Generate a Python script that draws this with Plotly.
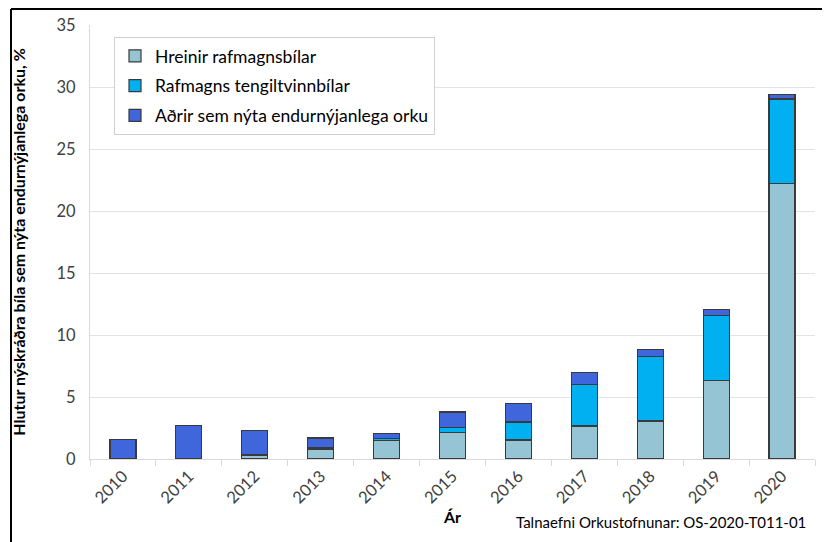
import plotly.graph_objects as go

years = ["2010", "2011", "2012", "2013", "2014", "2015", "2016", "2017", "2018", "2019", "2020"]
hreinir = [0, 0, 0.32, 0.80, 1.50, 2.12, 1.53, 2.66, 3.06, 6.35, 22.23]
tengiltvinn = [0, 0, 0.05, 0.08, 0.17, 0.43, 1.45, 3.36, 5.22, 5.25, 6.80]
adrir = [1.59, 2.69, 1.94, 0.81, 0.37, 1.24, 1.52, 0.98, 0.57, 0.47, 0.37]

font = "Lato"

fig = go.Figure()
fig.add_trace(go.Bar(x=years, y=hreinir, name="Hreinir rafmagnsbílar", legendgroup="a",
                     marker=dict(color="#95C4D5", line=dict(color="#3a3a3a", width=1.2))))
fig.add_trace(go.Bar(x=years, y=tengiltvinn, name="Rafmagns tengiltvinnbílar", legendgroup="b",
                     marker=dict(color="#00B0F0", line=dict(color="#3a3a3a", width=1.2))))
fig.add_trace(go.Bar(x=years, y=adrir, name="Aðrir sem nýta endurnýjanlega orku", legendgroup="c",
                     marker=dict(color="#4066DC", line=dict(color="#3a3a3a", width=1.2))))

fig.update_xaxes(
    automargin=False,
    tickangle=-45,
    showline=True, linecolor="#D9D9D9", linewidth=1,
    ticks="outside", ticklen=6, tickcolor="#D9D9D9", tickson="boundaries",
    tickfont=dict(family=font, size=16.5, color="#404040"),
    title=dict(text="<b>Ár</b>", font=dict(family=font, size=16, color="#000"), standoff=4),
)
fig.update_yaxes(
    automargin=False,
    range=[0, 35], dtick=5,
    showline=True, linecolor="#D9D9D9", linewidth=1,
    gridcolor="#E3E3E3", gridwidth=1, zeroline=False,
    tickfont=dict(family=font, size=16.5, color="#404040"),
    ticks="", ticklabelstandoff=10,
    title=dict(text="<b>Hlutur nýskráðra bíla sem nýta endurnýjanlega orku, %</b>",
               font=dict(family=font, size=16, color="#000"), standoff=26),
)

# page has an 8px body margin; figure is sized and placed to match page pixels
left = (11 - 90) / 725
top = (459 - 9) / 434
fig.add_shape(type="line", xref="paper", yref="paper", x0=left, x1=left, y0=-0.3, y1=top,
              line=dict(color="black", width=2))
fig.add_shape(type="line", xref="paper", yref="paper", x0=left, x1=1.1, y0=top, y1=top,
              line=dict(color="black", width=2))

fig.add_annotation(text="Talnaefni Orkustofnunar: OS-2020-T011-01", xref="paper", yref="paper",
                   x=(808 - 90) / 725, y=-(522 - 459) / 434, xanchor="right", yanchor="middle",
                   showarrow=False, font=dict(family=font, size=15, color="#000"))

fig.update_layout(
    barmode="stack", bargap=0.605,
    width=822, height=534,
    margin=dict(l=82, r=15, t=17, b=83),
    plot_bgcolor="white", paper_bgcolor="white",
    legend=dict(x=(114 - 90) / 725, y=(459 - 37) / 434, xanchor="left", yanchor="top",
                bordercolor="#D0D0D0", borderwidth=1, bgcolor="white",
                font=dict(family=font, size=17.5, color="#000"), traceorder="grouped",
                itemwidth=30, tracegroupgap=4),
    showlegend=True,
)

fig.write_html("out.html")
